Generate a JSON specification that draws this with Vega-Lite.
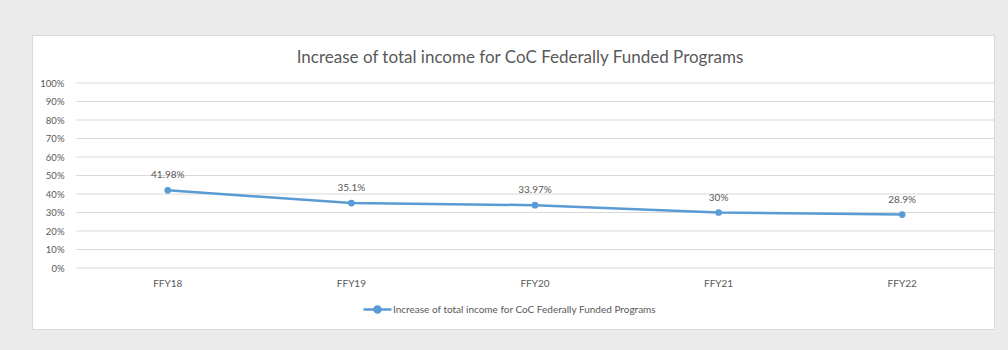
{
  "$schema": "https://vega.github.io/schema/vega-lite/v6.json",
  "width": 962,
  "height": 294,
  "padding": {"left": 32, "top": 35, "right": 14, "bottom": 21},
  "background": "#ebebeb",
  "config": {
    "font": "Lato",
    "view": {"fill": "white", "stroke": "#d9d9d9"},
    "axisY": {"offset": -44, "grid": false, "domain": false, "ticks": false, "labelPadding": 12, "labelFont": "Lato", "labelFontSize": 9.5, "labelColor": "#595959", "format": ".0%", "labelOverlap": false},
    "axisX": {"offset": -61, "grid": false, "domain": false, "ticks": false, "labelPadding": 10, "labelAngle": 0, "labelFont": "Lato", "labelFontSize": 10, "labelColor": "#595959", "labelOverlap": false}
  },
  "title": {"text": "Increase of total income for CoC Federally Funded Programs", "font": "Lato", "fontSize": 17, "fontWeight": "normal", "color": "#595959", "anchor": "middle", "frame": "group", "offset": -32, "dx": 7},
  "datasets": {
    "main": [
      {"year": "FFY18", "value": 0.4198, "series": "Increase of total income for CoC Federally Funded Programs"},
      {"year": "FFY19", "value": 0.351, "series": "Increase of total income for CoC Federally Funded Programs"},
      {"year": "FFY20", "value": 0.3397, "series": "Increase of total income for CoC Federally Funded Programs"},
      {"year": "FFY21", "value": 0.3, "series": "Increase of total income for CoC Federally Funded Programs"},
      {"year": "FFY22", "value": 0.289, "series": "Increase of total income for CoC Federally Funded Programs"}
    ],
    "grid": [
      {"g": 0}, {"g": 0.1}, {"g": 0.2}, {"g": 0.3}, {"g": 0.4}, {"g": 0.5},
      {"g": 0.6}, {"g": 0.7}, {"g": 0.8}, {"g": 0.9}, {"g": 1}
    ]
  },
  "layer": [
    {
      "data": {"name": "grid"},
      "mark": {"type": "rule", "color": "#d9d9d9", "strokeWidth": 1},
      "encoding": {
        "y": {"field": "g", "type": "quantitative", "title": null,
              "scale": {"domain": [-0.3297, 1.2595], "nice": false, "zero": false},
              "axis": {"values": [0, 0.1, 0.2, 0.3, 0.4, 0.5, 0.6, 0.7, 0.8, 0.9, 1], "tickCount": 20, "labelOverlap": false, "format": ".0%"}},
        "x": {"datum": "FFY18", "type": "nominal", "bandPosition": 0, "title": null},
        "x2": {"datum": "FFY22", "bandPosition": 1}
      }
    },
    {
      "data": {"name": "main"},
      "mark": {"type": "line", "strokeWidth": 2.5},
      "encoding": {
        "x": {"field": "year", "type": "nominal", "title": null, "bandPosition": 0.5,
              "scale": {"type": "band", "paddingInner": 0, "paddingOuter": 0.1198, "align": 1}},
        "y": {"field": "value", "type": "quantitative", "title": null, "axis": {"values": [0, 0.1, 0.2, 0.3, 0.4, 0.5, 0.6, 0.7, 0.8, 0.9, 1], "tickCount": 20, "labelOverlap": false, "format": ".0%"}},
        "color": {"field": "series", "type": "nominal", "scale": {"range": ["#5b9bd5"]},
                  "legend": {"orient": "none", "legendX": 330, "legendY": 259, "title": null, "padding": 0,
                             "symbolType": "M-1,0H1M0.22,0A0.22,0.22 0 1,1 -0.22,0A0.22,0.22 0 1,1 0.22,0",
                             "symbolSize": 784, "symbolStrokeWidth": 2.5, "symbolFillColor": "#5b9bd5", "symbolStrokeColor": "#5b9bd5",
                             "labelFont": "Lato", "labelFontSize": 10, "labelColor": "#595959", "labelOffset": 0, "labelLimit": 500}}
      }
    },
    {
      "data": {"name": "main"},
      "mark": {"type": "circle", "size": 45, "color": "#5b9bd5", "opacity": 1},
      "encoding": {
        "x": {"field": "year", "type": "nominal", "title": null, "bandPosition": 0.5},
        "y": {"field": "value", "type": "quantitative", "title": null}
      }
    },
    {
      "data": {"name": "main"},
      "mark": {"type": "text", "dy": -15, "fontSize": 10, "font": "Lato", "color": "#595959"},
      "encoding": {
        "x": {"field": "year", "type": "nominal", "title": null, "bandPosition": 0.5},
        "y": {"field": "value", "type": "quantitative", "title": null},
        "text": {"field": "value", "type": "quantitative", "format": "~%"}
      }
    }
  ]
}
